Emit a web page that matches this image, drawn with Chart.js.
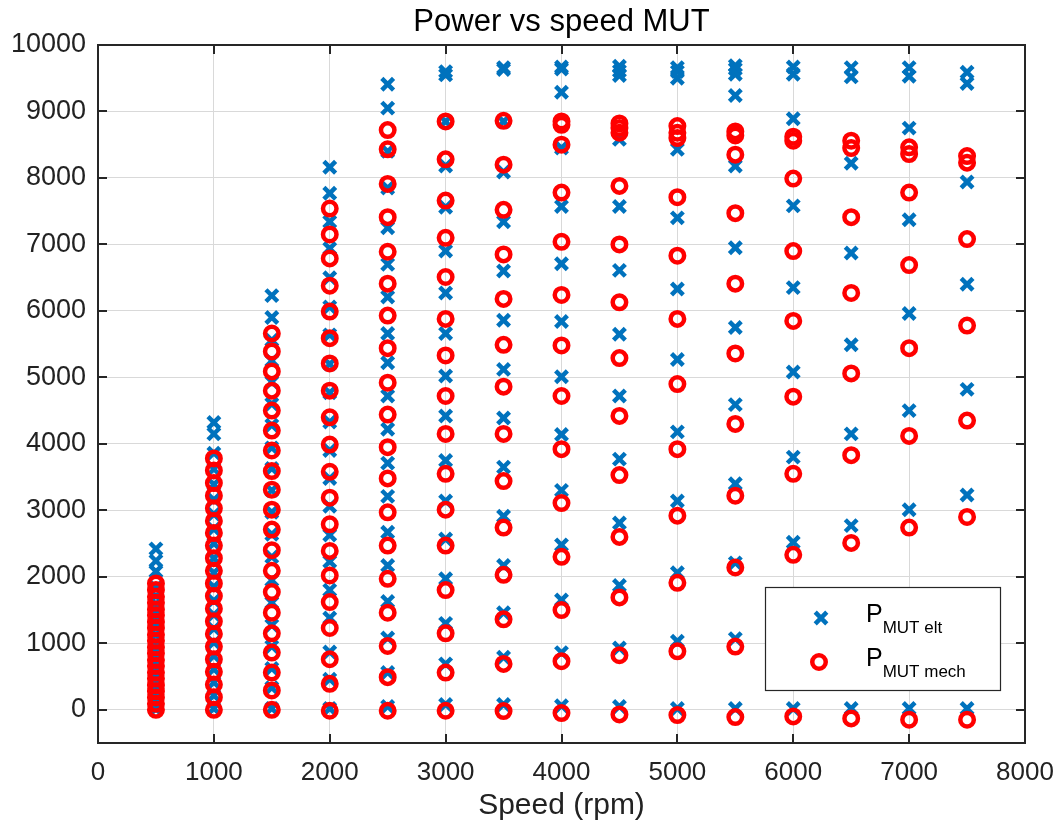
<!DOCTYPE html>
<html>
<head>
<meta charset="utf-8">
<script src="https://cdn.jsdelivr.net/npm/chart.js@4.4.1/dist/chart.umd.min.js"></script>
<style>
  html, body { margin: 0; padding: 0; background: #ffffff; }
  #wrap { width: 1060px; height: 831px; }
</style>
</head>
<body>
<div id="wrap"><canvas id="c" width="1060" height="831"></canvas></div>
<script>
// ---------- data ----------
const chartTitle = "Power vs speed MUT";
const xAxisLabel = "Speed (rpm)";
const seriesNames = ["MUT elt", "MUT mech"];   // subscripts of P
const xTicks = [0, 1000, 2000, 3000, 4000, 5000, 6000, 7000, 8000];
const yTicks = [0, 1000, 2000, 3000, 4000, 5000, 6000, 7000, 8000, 9000, 10000];

const speeds = [500, 1000, 1500, 2000, 2500, 3000, 3500, 4000, 4500, 5000, 5500, 6000, 6500, 7000, 7500];

// mechanical power (W) at each speed
const pMech = [
  [0, 90, 185, 280, 370, 470, 560, 660, 750, 850, 940, 1040, 1130, 1230, 1320, 1420, 1510, 1610, 1700, 1800, 1900],
  [0, 190, 380, 570, 760, 950, 1140, 1330, 1520, 1710, 1900, 2090, 2280, 2470, 2660, 2840, 3030, 3220, 3410, 3600, 3780],
  [0, 290, 560, 860, 1150, 1460, 1770, 2090, 2400, 2710, 3010, 3310, 3590, 3900, 4200, 4500, 4800, 5090, 5390, 5660],
  [-15, 390, 760, 1230, 1620, 2020, 2390, 2790, 3190, 3580, 3990, 4400, 4800, 5210, 5590, 5990, 6380, 6790, 7150, 7540],
  [-15, 490, 960, 1460, 1970, 2470, 2970, 3480, 3950, 4440, 4920, 5440, 5930, 6410, 6890, 7410, 7910, 8430, 8720],
  [-15, 560, 1150, 1800, 2470, 3010, 3550, 4150, 4720, 5330, 5880, 6510, 7100, 7660, 8280, 8850],
  [-20, 690, 1360, 2030, 2740, 3440, 4150, 4860, 5490, 6180, 6850, 7520, 8200, 8860],
  [-50, 730, 1500, 2300, 3110, 3920, 4720, 5480, 6240, 7040, 7780, 8500, 8800, 8850],
  [-70, 820, 1690, 2600, 3530, 4420, 5290, 6130, 7000, 7880, 8680, 8750, 8820],
  [-80, 880, 1910, 2920, 3920, 4900, 5880, 6830, 7710, 8600, 8680, 8780],
  [-110, 950, 2140, 3220, 4300, 5360, 6410, 7470, 8350, 8640, 8700],
  [-100, 1150, 2330, 3550, 4710, 5850, 6900, 7990, 8560, 8620],
  [-130, 1250, 2510, 3830, 5060, 6270, 7410, 8450, 8560],
  [-150, 1350, 2740, 4120, 5440, 6690, 7780, 8360, 8460],
  [-150, 1440, 2900, 4350, 5780, 7080, 8230, 8330]
];

// electrical power (W) at each speed
const pElt = [
  [10, 105, 205, 305, 400, 505, 605, 710, 810, 915, 1020, 1130, 1240, 1350, 1470, 1590, 1710, 1840, 2080, 2240, 2420],
  [20, 215, 410, 610, 810, 1010, 1220, 1430, 1640, 1850, 2060, 2280, 2500, 2720, 2940, 3160, 3390, 3620, 3860, 4150, 4320],
  [20, 330, 620, 950, 1270, 1610, 1950, 2300, 2640, 2970, 3300, 3630, 3940, 4280, 4600, 4930, 5250, 5560, 5900, 6230],
  [20, 460, 870, 1380, 1800, 2230, 2630, 3060, 3480, 3900, 4330, 4770, 5200, 5640, 6060, 6500, 6940, 7340, 7770, 8160],
  [50, 560, 1080, 1630, 2170, 2670, 3210, 3710, 4220, 4720, 5220, 5660, 6210, 6700, 7250, 7850, 8400, 9050, 9410],
  [80, 690, 1300, 1970, 2570, 3140, 3750, 4420, 5020, 5660, 6270, 6900, 7560, 8180, 8850, 9550, 9600],
  [80, 790, 1460, 2170, 2910, 3650, 4390, 5120, 5860, 6600, 7340, 8090, 8850, 9630, 9660],
  [60, 860, 1650, 2480, 3300, 4140, 5010, 5840, 6710, 7570, 8450, 9290, 9640, 9670],
  [50, 930, 1870, 2810, 3770, 4720, 5650, 6610, 7570, 8580, 9540, 9610, 9680],
  [20, 1030, 2060, 3140, 4180, 5270, 6330, 7400, 8430, 9500, 9600, 9660],
  [20, 1070, 2210, 3400, 4590, 5750, 6950, 8180, 9240, 9560, 9640, 9690],
  [20, 1250, 2520, 3800, 5080, 6350, 7580, 8890, 9560, 9670],
  [20, 1380, 2770, 4150, 5490, 6870, 8220, 9520, 9660],
  [20, 1500, 3010, 4500, 5960, 7370, 8750, 9530, 9660],
  [20, 1600, 3230, 4820, 6400, 7940, 9420, 9590]
];

// ---------- build datasets ----------
const toPoints = (table) => speeds.flatMap((s, i) => table[i].map(v => ({ x: s, y: v })));

const BLUE = '#0072BD';
const RED = '#FF0000';
const AXIS = '#262626';
const FONT = "'Liberation Sans', Arial, Helvetica, sans-serif";

// inward ticks, full box, legend with subscripts
const boxPlugin = {
  id: 'boxPlugin',
  afterDatasetsDraw(chart) {
    const { ctx, chartArea: a, scales } = chart;
    const xs = scales.x, ys = scales.y;
    ctx.save();
    ctx.strokeStyle = AXIS;
    ctx.lineWidth = 2;
    const tl = 9;
    ctx.beginPath();
    xTicks.forEach(v => {
      const px = Math.round(xs.getPixelForValue(v));
      ctx.moveTo(px, a.bottom); ctx.lineTo(px, a.bottom - tl);
      ctx.moveTo(px, a.top); ctx.lineTo(px, a.top + tl);
    });
    yTicks.forEach(v => {
      const py = Math.round(ys.getPixelForValue(v));
      ctx.moveTo(a.left, py); ctx.lineTo(a.left + tl, py);
      ctx.moveTo(a.right, py); ctx.lineTo(a.right - tl, py);
    });
    ctx.stroke();
    ctx.lineWidth = 2;
    ctx.strokeRect(a.left, a.top, a.right - a.left, a.bottom - a.top);

    // legend
    const lx = a.right - 260, ly = a.bottom - 156, lw = 235, lh = 103;
    ctx.fillStyle = '#ffffff';
    ctx.fillRect(lx, ly, lw, lh);
    ctx.lineWidth = 1.2;
    ctx.strokeStyle = AXIS;
    ctx.strokeRect(lx + 0.5, ly + 0.5, lw, lh);

    const m1x = lx + 56, m1y = ly + 31;
    ctx.strokeStyle = BLUE;
    ctx.lineWidth = 4.5;
    const d = 5.8;
    ctx.beginPath();
    ctx.moveTo(m1x - d, m1y - d); ctx.lineTo(m1x + d, m1y + d);
    ctx.moveTo(m1x - d, m1y + d); ctx.lineTo(m1x + d, m1y - d);
    ctx.stroke();
    const m2x = lx + 54, m2y = ly + 75;
    ctx.strokeStyle = RED;
    ctx.lineWidth = 4.5;
    ctx.beginPath();
    ctx.arc(m2x, m2y, 6.75, 0, Math.PI * 2);
    ctx.stroke();

    ctx.fillStyle = '#000000';
    ctx.textAlign = 'left';
    ctx.textBaseline = 'alphabetic';
    const tx = lx + 101;
    [[ly + 35, seriesNames[0]], [ly + 79, seriesNames[1]]].forEach(([by, sub]) => {
      ctx.font = "25px " + FONT;
      ctx.fillText('P', tx, by);
      const pw = ctx.measureText('P').width;
      ctx.font = "17px " + FONT;
      ctx.fillText(sub, tx + pw, by + 11);
    });
    ctx.restore();
  }
};

new Chart(document.getElementById('c'), {
  type: 'scatter',
  data: {
    datasets: [
      {
        label: 'P MUT mech',
        data: toPoints(pMech),
        pointStyle: 'circle',
        pointRadius: 6.75,
        pointBorderWidth: 4.5,
        borderColor: RED,
        pointBorderColor: RED,
        pointBackgroundColor: 'rgba(0,0,0,0)',
        backgroundColor: 'rgba(0,0,0,0)'
      },
      {
        label: 'P MUT elt',
        data: toPoints(pElt),
        pointStyle: 'crossRot',
        pointRadius: 8.3,
        pointBorderWidth: 4.5,
        borderColor: BLUE,
        pointBorderColor: BLUE,
        backgroundColor: BLUE
      }
    ]
  },
  options: {
    responsive: false,
    animation: false,
    devicePixelRatio: 1,
    events: [],
    layout: { padding: { left: 0, right: 35, top: 0, bottom: 0 } },
    plugins: {
      legend: { display: false },
      tooltip: { enabled: false },
      title: { display: false }
    },
    scales: {
      x: {
        type: 'linear',
        min: 0, max: 8000,
        afterBuildTicks: (s) => { s.ticks = xTicks.map(v => ({ value: v })); },
        afterFit: (s) => { s.height = 88; s.paddingLeft = 0; s.paddingRight = 0; },
        ticks: {
          autoSkip: false, maxRotation: 0, padding: 14,
          color: '#222222',
          font: { family: FONT, size: 26 },
          callback: (v) => String(v)
        },
        grid: { color: '#d9d9d9', lineWidth: 1, drawTicks: false },
        border: { display: false },
        title: {
          display: true, text: xAxisLabel, color: '#222222',
          font: { family: FONT, size: 30, lineHeight: 1.2 },
          padding: { top: 0, bottom: 7 }
        }
      },
      xTop: {
        type: 'linear',
        position: 'top',
        min: 0, max: 8000,
        afterBuildTicks: (s) => { s.ticks = []; },
        afterFit: (s) => { s.height = 45; s.paddingLeft = 0; s.paddingRight = 0; },
        ticks: { display: false },
        grid: { display: false, drawTicks: false },
        border: { display: false },
        title: {
          display: true, text: chartTitle, color: '#000000',
          font: { family: FONT, size: 31, weight: 'normal', lineHeight: 1.2 },
          padding: { top: 4, bottom: 0 }
        }
      },
      y: {
        type: 'linear',
        min: -500, max: 10000,
        afterBuildTicks: (s) => { s.ticks = yTicks.map(v => ({ value: v })); },
        afterFit: (s) => { s.width = 98; },
        ticks: {
          autoSkip: false, padding: 12,
          color: '#222222',
          font: { family: FONT, size: 27 },
          callback: (v) => String(v)
        },
        grid: { color: '#d9d9d9', lineWidth: 1, drawTicks: false },
        border: { display: false }
      }
    }
  },
  plugins: [boxPlugin]
});
</script>
</body>
</html>
